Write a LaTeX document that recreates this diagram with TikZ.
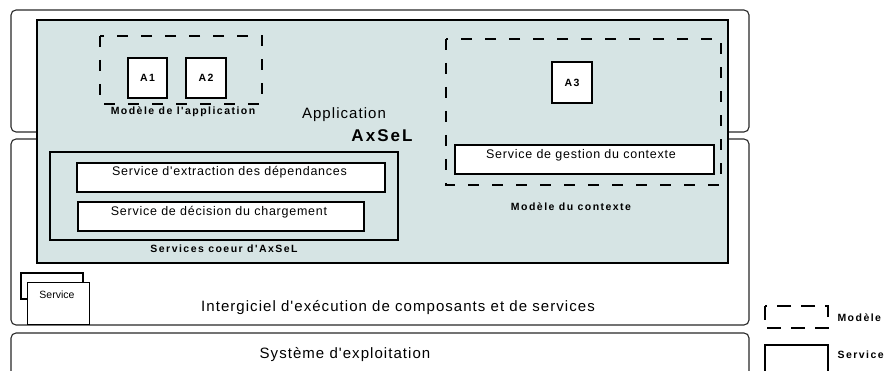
\documentclass[tikz,border=0pt]{standalone}
\usepackage{fontspec}
\setmainfont{Liberation Sans}
\newfontfamily\lblfont[LetterSpace=14]{Liberation Sans}
\newfontfamily\axfont[LetterSpace=12]{Liberation Sans}
\newfontfamily\txtfont[LetterSpace=6]{Liberation Sans}
\newfontfamily\bigfont[LetterSpace=7]{Liberation Sans}
\definecolor{axfill}{RGB}{214,228,228}
\definecolor{layerline}{RGB}{40,40,40}
\tikzset{
  layer/.style={draw=layerline, line width=1.1pt, rounded corners=5pt},
  axbox/.style={draw=black, line width=2pt, fill=axfill},
  modelbox/.style={draw=black, line width=2pt, dash pattern=on 11pt off 13pt},
  svcbox/.style={draw=black, line width=2pt, fill=white},
  abox/.style={draw=black, line width=1.4pt, fill=white, font=\lblfont\bfseries\fontsize{10.5}{12}\selectfont},
  corebox/.style={draw=black, line width=1.3pt},
  thinbox/.style={draw=black, line width=1.1pt, fill=white},
  boldlbl/.style={font=\lblfont\bfseries\fontsize{10.5}{12}\selectfont},
  svctxt/.style={font=\txtfont\fontsize{12.5}{14}\selectfont},
  bigtxt/.style={font=\bigfont\fontsize{15}{17}\selectfont},
}
\begin{document}
\begin{tikzpicture}[x=1pt,y=-1pt]
\useasboundingbox (0,0) rectangle (886,371);
% layers
\draw[layer] (11,10) rectangle (749,132);
\draw[layer] (11,139) rectangle (749,325);
\draw[layer] (11,333) rectangle (749,380);
% AxSeL box
\draw[axbox] (37,20) rectangle (728,263);
% application model
\draw[modelbox] (100,36) rectangle (262,104);
\node[abox, minimum width=39pt, minimum height=40pt] (a1) at (147.5,78) {A1};
\node[abox, minimum width=40pt, minimum height=40pt] (a2) at (206,78) {A2};
\node[boldlbl] (lblapp) at (183,112) {Modèle de l'application};
\node[bigtxt] (app) at (344,114.5) {Application};
\node[font=\axfont\bfseries\fontsize{17}{19}\selectfont] (axsel) at (382,136) {AxSeL};
% context model
\draw[modelbox] (446,39) rectangle (721,185);
\node[abox, minimum width=40pt, minimum height=41pt] (a3) at (572,82.5) {A3};
\node[svcbox, minimum width=259pt, minimum height=29pt, anchor=north west] (gestion) at (454,144) {};
\node[svctxt] (gestiontxt) at (581,155) {Service de gestion du contexte};
\node[boldlbl] (lblctx) at (571,207) {Modèle du contexte};
% core services
\draw[corebox] (50,152) rectangle (398,240);
\node[svcbox, minimum width=308pt, minimum height=29pt, anchor=north west] (extr) at (76,162) {};
\node[svctxt] (extrtxt) at (229.5,172.5) {Service d'extraction des dépendances};
\node[svcbox, minimum width=286pt, minimum height=29pt, anchor=north west] (dec) at (77,201) {};
\node[svctxt] (dectxt) at (219,212) {Service de décision du chargement};
\node[boldlbl] (lblcore) at (224,249) {Services coeur d'AxSeL};
% middleware
\draw[thinbox] (21,273) rectangle (83,299);
\node[thinbox, minimum width=62pt, minimum height=42pt, anchor=north west, inner sep=0pt] (svcstack) at (27,282) {};
\node[font=\fontsize{10.5}{12}\selectfont] (svcstacktxt) at (57,294.5) {Service};
\node[bigtxt] (interg) at (398,308) {Intergiciel d'exécution de composants et de services};
\node[bigtxt] (os) at (345,354.5) {Système d'exploitation};
% legend
\draw[line width=1.6pt, dash pattern=on 14pt off 10pt] (765,306) rectangle (828,328);
\node[boldlbl, anchor=west] (legmod) at (834,318) {Modèle};
\draw[line width=1.6pt] (765,345) rectangle (828,380);
\node[boldlbl, anchor=west] (legsvc) at (834,355) {Service};
\end{tikzpicture}
\end{document}
